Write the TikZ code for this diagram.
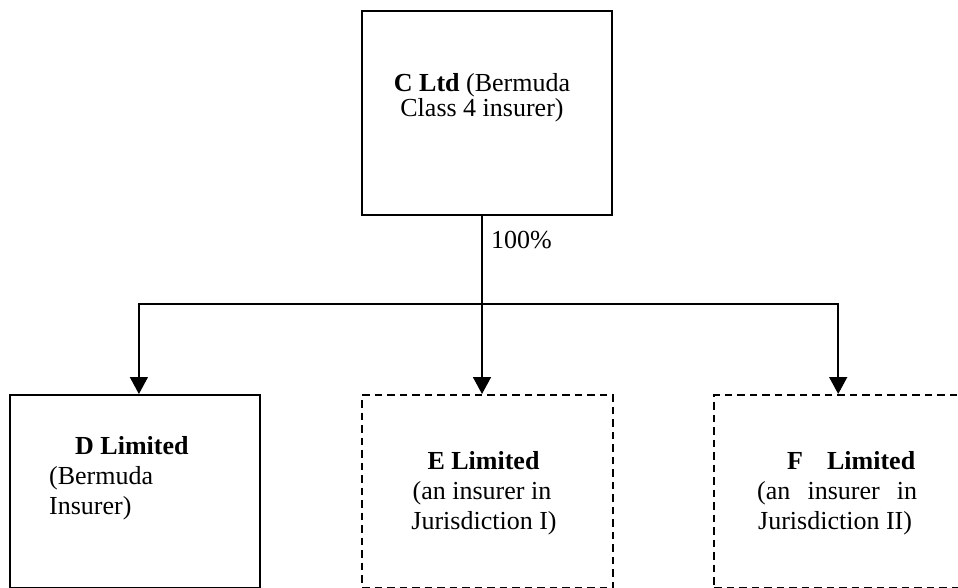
\documentclass[tikz,border=0pt]{standalone}
\usepackage{fontspec}
\setmainfont{Liberation Serif}
\usetikzlibrary{arrows.meta}

\tikzset{
  entity/.style={draw=black, line width=1.8pt, rectangle, inner sep=0pt},
  solidbox/.style={entity},
  dashbox/.style={entity, line width=2.4pt, dash pattern=on 7.5pt off 5pt},
  txt/.style={inner sep=0pt, font=\fontsize{26pt}{30pt}\selectfont},
  link/.style={draw=black, line width=1.6pt},
  arrowlink/.style={link, -{Triangle[length=17pt,width=18pt]}},
}

\begin{document}
\begin{tikzpicture}[x=1pt, y=-1pt]
  \useasboundingbox (0,0) rectangle (958,588);
  \clip (0,0) rectangle (958,588);

  % company boxes
  \node[solidbox, minimum width=250pt, minimum height=204pt, anchor=north west] (C) at (361,10) {};
  \node[solidbox, minimum width=250pt, minimum height=193pt, anchor=north west] (D) at (9,394) {};
  \node[dashbox,  minimum width=251pt, minimum height=193pt, anchor=north west] (E) at (361,394) {};
  \node[dashbox,  minimum width=250pt, minimum height=193pt, anchor=north west] (F) at (713,394) {};

  % box texts
  \node[txt, anchor=base] (C1) at (482,92) {\textbf{C Ltd} (Bermuda};
  \node[txt, anchor=base] (C2) at (482,117) {Class 4 insurer)};

  \node[txt, anchor=base west] (D1) at (75,454) {\textbf{D Limited}};
  \node[txt, anchor=base west] (D2) at (49,484) {(Bermuda};
  \node[txt, anchor=base west] (D3) at (49,514) {Insurer)};

  \node[txt, anchor=base] (E1) at (483.5,469) {\textbf{E Limited}};
  \node[txt, anchor=base] (E2) at (482,499) {(an insurer in};
  \node[txt, anchor=base] (E3) at (484,529) {Jurisdiction I)};

  \node[txt, anchor=base west] (F1) at (787,469) {\makebox[128pt][s]{\textbf{F Limited}}};
  \node[txt, anchor=base west] (F2) at (757,499) {\makebox[160pt][s]{(an insurer in}};
  \node[txt, anchor=base west] (F3) at (758,529) {Jurisdiction II)};

  % ownership connectors
  \coordinate (hub) at (482,304);
  \draw[link] (C.south -| hub) -- (hub);
  \node[txt, anchor=base west] (pct) at (491,248) {100\%};
  \draw[arrowlink] (hub) -| ([xshift=4pt]D.north);
  \draw[arrowlink] (hub) -- (hub |- E.north);
  \draw[arrowlink] (hub) -| ([xshift=-1pt]F.north);
\end{tikzpicture}
\end{document}
